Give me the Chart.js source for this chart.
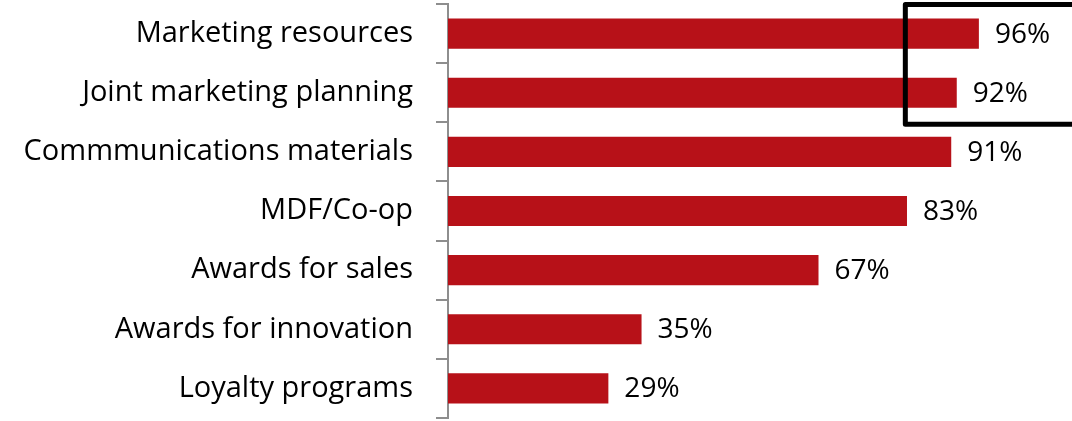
<!DOCTYPE html>
<html>
<head>
<meta charset="utf-8">
<style>
  html, body { margin: 0; padding: 0; background: #fff; }
  #wrap { width: 1072px; height: 421px; }
</style>
<script src="https://cdn.jsdelivr.net/npm/chart.js@4/dist/chart.umd.min.js"></script>
</head>
<body>
<div id="wrap"><canvas id="programChart" width="1072" height="421"></canvas></div>
<script>
const categories = [
    'Marketing resources',
    'Joint marketing planning',
    'Commmunications materials',
    'MDF/Co-op',
    'Awards for sales',
    'Awards for innovation',
    'Loyalty programs'
];
const shares = [96, 92, 91, 83, 67, 35, 29];
// the two leading programs get a frame around their bar ends
const highlighted = [0, 1];

const FONT = '"Open Sans", "Noto Sans", sans-serif';
const BAR_RED = '#B71118';
const AXIS_GREY = '#8e8e8e';

// percentage text to the right of each bar
const valueLabels = {
    id: 'valueLabels',
    afterDatasetsDraw(chart) {
        const ctx = chart.ctx;
        const meta = chart.getDatasetMeta(0);
        ctx.save();
        ctx.font = '28px ' + FONT;
        ctx.fillStyle = '#000';
        ctx.textAlign = 'left';
        ctx.textBaseline = 'middle';
        meta.data.forEach((bar, i) => {
            ctx.fillText(shares[i] + '%', bar.x + 16, bar.y + 1);
        });
        ctx.restore();
    }
};

// black frame over the highlighted rows
const highlightBox = {
    id: 'highlightBox',
    afterDraw(chart) {
        const x = chart.scales.x;
        const y = chart.scales.y;
        const first = highlighted[0];
        const last = highlighted[highlighted.length - 1];
        const band = y.getPixelForValue(1) - y.getPixelForValue(0);
        const top = y.getPixelForValue(first) - band / 2 + 0.5;
        const bottom = y.getPixelForValue(last) + band / 2 + 2;
        const left = x.getPixelForValue(82.7);
        const right = chart.width + 20;
        const ctx = chart.ctx;
        ctx.save();
        ctx.strokeStyle = '#000';
        ctx.lineWidth = 5;
        ctx.lineJoin = 'round';
        ctx.strokeRect(left, top, right - left, bottom - top);
        ctx.restore();
    }
};

new Chart(document.getElementById('programChart'), {
    type: 'bar',
    data: {
        labels: categories,
        datasets: [{
            data: shares,
            backgroundColor: BAR_RED,
            borderWidth: 0,
            categoryPercentage: 1,
            barPercentage: 0.51
        }]
    },
    options: {
        indexAxis: 'y',
        responsive: false,
        animation: false,
        layout: { padding: { top: 4, bottom: 3, left: 0, right: 71 } },
        scales: {
            x: {
                display: false,
                min: 0,
                max: 100
            },
            y: {
                afterFit(scale) {
                    scale.width = 448;
                    // labels sit inside their bands, so no extra room above/below
                    scale.paddingTop = 0;
                    scale.paddingBottom = 0;
                },
                grid: {
                    offset: true,
                    drawOnChartArea: false,
                    drawTicks: true,
                    tickLength: 12,
                    color: AXIS_GREY,
                    lineWidth: 2
                },
                border: { display: true, color: AXIS_GREY, width: 2 },
                ticks: {
                    color: '#000',
                    padding: 23,
                    font: { family: FONT, size: 29 }
                }
            }
        },
        plugins: {
            legend: { display: false },
            tooltip: { enabled: false }
        }
    },
    plugins: [valueLabels, highlightBox]
});
</script>
</body>
</html>
